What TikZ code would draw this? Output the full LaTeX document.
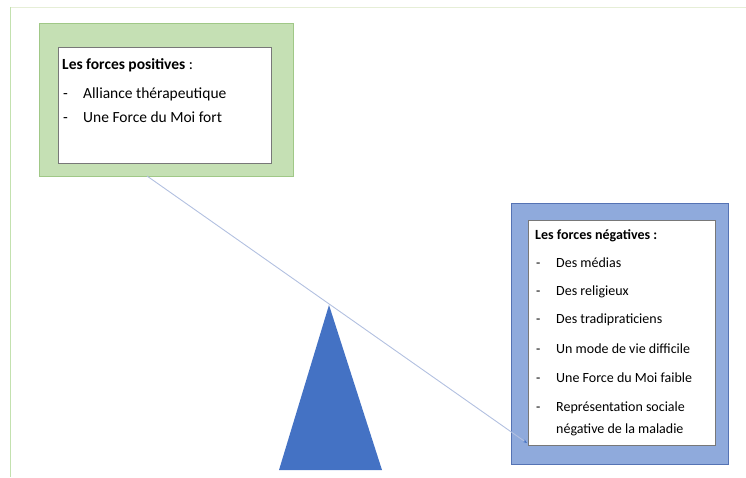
\documentclass[tikz,border=0pt]{standalone}
\usepackage{fontspec}
\setmainfont{Carlito}
\usetikzlibrary{arrows.meta}
\definecolor{greenfill}{RGB}{197,224,180}
\definecolor{greenline}{RGB}{160,200,135}
\definecolor{bluefill}{RGB}{143,170,220}
\definecolor{blueline}{RGB}{85,115,180}
\definecolor{tri}{RGB}{68,114,196}
\definecolor{beam}{RGB}{178,192,224}
\definecolor{frametop}{RGB}{230,238,215}
\definecolor{frameleft}{RGB}{195,225,175}
\definecolor{innerline}{RGB}{120,120,120}
\tikzset{
  outerbox/.style={anchor=north west, inner sep=0pt, line width=0.8pt},
  innerbox/.style={anchor=north west, inner sep=0pt, draw=innerline, fill=white, line width=0.6pt},
  txt/.style={anchor=base west, inner sep=0pt, font=\fontsize{14}{16}\selectfont},
  txtbig/.style={anchor=base west, inner sep=0pt, font=\fontsize{15.5}{18}\selectfont},
}
\begin{document}
\begin{tikzpicture}[x=1pt,y=-1pt]
\useasboundingbox (0,0) rectangle (746,477);
% frame
\draw[frametop, line width=1pt] (10,7) -- (746,7);
\draw[frameleft, line width=1.2pt] (10.5,7) -- (10.5,477);
% left box
\node[outerbox, draw=greenline, fill=greenfill, minimum width=254pt, minimum height=153pt] (gout) at (39,23) {};
\node[innerbox, minimum width=213pt, minimum height=116pt] (gin) at (58,47) {};
\node[txtbig] (gt) at (62,69) {\textbf{Les forces positives} :};
\node[txtbig] (gd1) at (63,98) {-};
\node[txtbig] (g1) at (83,98) {Alliance thérapeutique};
\node[txtbig] (gd2) at (63,122) {-};
\node[txtbig] (g2) at (83,122) {Une Force du Moi fort};
% right box
\node[outerbox, draw=blueline, fill=bluefill, minimum width=217pt, minimum height=261pt] (bout) at (511,203) {};
\node[innerbox, minimum width=187pt, minimum height=225pt] (bin) at (528,220) {};
\node[txt] (bt) at (535,239) {\textbf{Les forces négatives :}};
\node[txt] (bd1) at (536,267) {-};
\node[txt] (b1) at (556,267) {Des médias};
\node[txt] (bd2) at (536,295) {-};
\node[txt] (b2) at (556,295) {Des religieux};
\node[txt] (bd3) at (536,323) {-};
\node[txt] (b3) at (556,323) {Des tradipraticiens};
\node[txt] (bd4) at (536,353) {-};
\node[txt] (b4) at (556,353) {Un mode de vie difficile};
\node[txt] (bd5) at (536,382) {-};
\node[txt] (b5) at (556,382) {Une Force du Moi faible};
\node[txt] (bd6) at (536,411) {-};
\node[txt] (b6) at (556,411) {Représentation sociale};
\node[txt] (b7) at (556,433) {négative de la maladie};
% fulcrum
\coordinate (apex) at (329,305);
\coordinate (bl) at (279,470);
\coordinate (br) at (382,470);
\fill[tri] (apex) -- (br) -- (bl) -- cycle;
% beam
\coordinate (bs) at (147,176);
\coordinate (be) at (527,443);
\draw[beam, line width=0.9pt, -{Stealth[length=4pt,width=3pt,color=tri]}] (bs) -- (be);
\end{tikzpicture}
\end{document}
